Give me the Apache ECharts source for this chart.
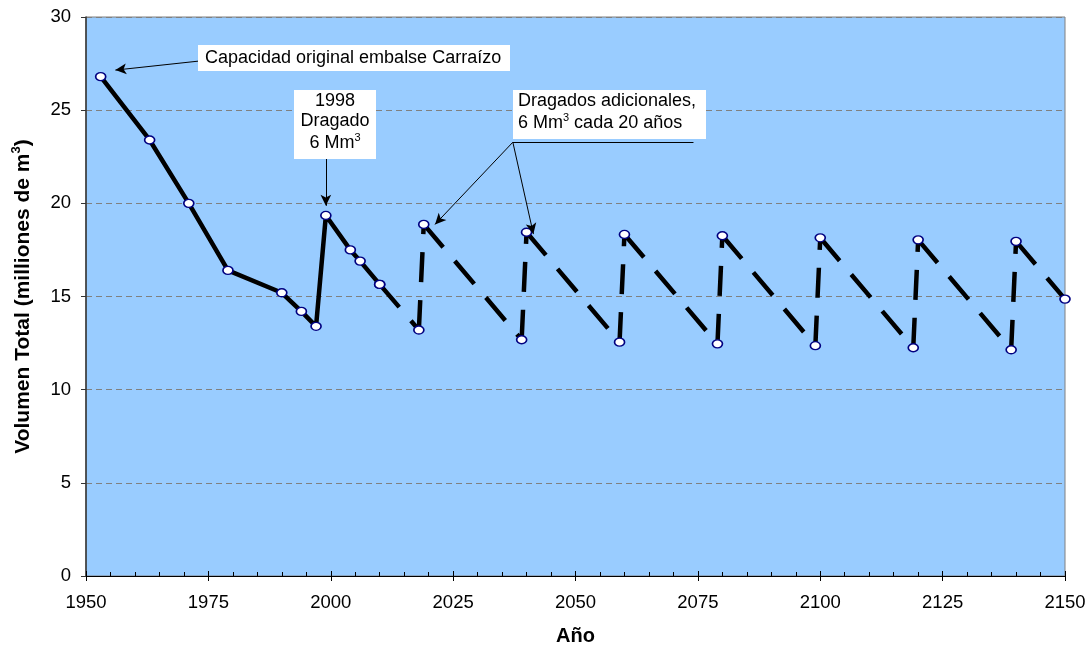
<!DOCTYPE html>
<html><head><meta charset="utf-8">
<script src="https://cdn.jsdelivr.net/npm/echarts@6/dist/echarts.min.js"></script>
<style>html,body{margin:0;padding:0;background:#fff}#c{width:1091px;height:645px}</style>
</head><body><div id="c"></div>
<script>
// ---- data ----
const measuredYears   = [1953, 1963, 1971, 1979, 1990, 1994, 1997, 1999, 2004, 2006, 2010];
const measuredVolumes = [26.8, 23.4, 20.0, 16.4, 15.2, 14.2, 13.4, 19.35, 17.5, 16.9, 15.65];
const projectedYears   = [2010, 2018, 2019, 2039, 2040, 2059, 2060, 2079, 2080, 2099, 2100, 2119, 2120, 2139, 2140, 2150];
const projectedVolumes = [15.65, 13.2, 18.87, 12.68, 18.45, 12.55, 18.33, 12.46, 18.26, 12.36, 18.15, 12.25, 18.04, 12.14, 17.96, 14.86];
const xTickLabels = [1950, 1975, 2000, 2025, 2050, 2075, 2100, 2125, 2150];
const yTickLabels = [0, 5, 10, 15, 20, 25, 30];
// annotation arrows in data coordinates [from, to, arrowhead?]
const arrowFrom = [[1972.9, 27.63], [1999.0, 22.39], [2037.2, 23.28], [2037.2, 23.28], [2037.2, 23.28]];
const arrowTo   = [[1956.0, 27.15], [1999.0, 19.87], [2021.3, 18.87], [2041.4, 18.35], [2074.1, 23.28]];
const arrowHead = [true, true, true, true, false];

const FONT = '"Liberation Sans", Arial, sans-serif';
const chart = echarts.init(document.getElementById('c'));

const pair = (xs, ys) => xs.map((x, i) => [x, ys[i]]);
const measured = pair(measuredYears, measuredVolumes);
const projected = pair(projectedYears, projectedVolumes);

const markerStyle = {color: '#ffffff', borderColor: '#000080', borderWidth: 1.5, opacity: 1};

const series = [];
series.push({
  type: 'line', data: measured, xAxisIndex: 0, yAxisIndex: 0,
  lineStyle: {color: '#000', width: 4.5}, symbol: 'circle', symbolSize: [10, 8],
  itemStyle: markerStyle, z: 3,
  markLine: {
    silent: true, animation: false, label: {show: false},
    symbolSize: [8, 11],
    lineStyle: {color: '#000', width: 1, type: 'solid'},
    data: arrowFrom.map((f, i) => [
      {coord: f, symbol: 'none'},
      {coord: arrowTo[i], symbol: arrowHead[i] ? 'arrow' : 'none'}
    ])
  }
});
// dashed projection: one segment per pair so the dash pattern restarts at each point
for (let i = 0; i < projected.length - 1; i++) {
  series.push({
    type: 'line', data: [projected[i], projected[i + 1]], xAxisIndex: 0, yAxisIndex: 0,
    lineStyle: {color: '#000', width: 4.5, type: [30, 18], cap: 'butt'},
    showSymbol: false, symbol: 'none', z: 2
  });
}
series.push({
  type: 'scatter', data: projected, xAxisIndex: 0, yAxisIndex: 0,
  symbol: 'circle', symbolSize: [10, 8], itemStyle: markerStyle, z: 4
});

chart.setOption({
  animation: false,
  backgroundColor: '#ffffff',
  grid: {left: 86, right: 26, top: 17, bottom: 69, show: true, containLabel: false,
         outerBoundsMode: 'none',
         backgroundColor: '#99CCFF', borderColor: '#808080', borderWidth: 1},
  xAxis: [{
    type: 'value', min: xTickLabels[0], max: xTickLabels[xTickLabels.length - 1], interval: 25,
    position: 'bottom',
    axisLine: {show: true, onZero: false, lineStyle: {color: '#000', width: 1}},
    axisTick: {show: true, inside: false, length: 5, lineStyle: {color: '#000'}},
    axisLabel: {color: '#000', fontSize: 18.5, fontFamily: FONT, margin: 17, formatter: v => String(v)},
    splitLine: {show: false},
    name: 'Año', nameLocation: 'middle', nameGap: 50,
    nameTextStyle: {color: '#000', fontSize: 20, fontWeight: 'bold', fontFamily: FONT}
  }, {
    type: 'value', min: xTickLabels[0], max: xTickLabels[xTickLabels.length - 1], interval: 25,
    position: 'bottom',
    axisLine: {show: false},
    axisTick: {show: true, inside: true, length: 5, lineStyle: {color: '#000'}},
    minorTick: {show: true, splitNumber: 5, length: 4, lineStyle: {color: '#000'}},
    axisLabel: {show: false}, splitLine: {show: false}
  }],
  yAxis: {
    type: 'value', min: yTickLabels[0], max: yTickLabels[yTickLabels.length - 1], interval: 5,
    axisLine: {show: true, lineStyle: {color: '#333', width: 1.5}},
    axisTick: {show: true, length: 5, lineStyle: {color: '#333'}},
    axisLabel: {color: '#000', fontSize: 18.5, fontFamily: FONT, margin: 15, formatter: v => String(v)},
    splitLine: {show: true, lineStyle: {color: '#808080', type: [6, 4], width: 1}},
    name: '{b|Volumen Total (milliones de m}{s|3}{b|)}',
    nameLocation: 'middle', nameGap: 50,
    nameTextStyle: {
      rich: {
        b: {fontSize: 21, fontWeight: 'bold', fontFamily: FONT, color: '#000', lineHeight: 26},
        s: {fontSize: 13, fontWeight: 'bold', fontFamily: FONT, color: '#000', verticalAlign: 'top', lineHeight: 14}
      }
    }
  },
  series: series
});

// ---- text boxes ----
const txt = {fontSize: 18, fontFamily: FONT, fill: '#000'};
const sup = {fontSize: 11, fontFamily: FONT, fill: '#000', verticalAlign: 'top', lineHeight: 12};
const nrm = {fontSize: 18, fontFamily: FONT, fill: '#000', lineHeight: 21};
chart.setOption({
  graphic: [
    {type: 'rect', shape: {x: 198, y: 45, width: 312, height: 26}, style: {fill: '#fff'}, z: 10},
    {type: 'text', x: 205, y: 58, z: 11,
     style: Object.assign({text: 'Capacidad original embalse Carraízo', verticalAlign: 'middle'}, txt)},

    {type: 'rect', shape: {x: 294, y: 90, width: 82, height: 69}, style: {fill: '#fff'}, z: 10},
    {type: 'text', x: 335, y: 101, z: 11, style: Object.assign({text: '1998', align: 'center', verticalAlign: 'middle'}, txt)},
    {type: 'text', x: 335, y: 121, z: 11, style: Object.assign({text: 'Dragado', align: 'center', verticalAlign: 'middle'}, txt)},
    {type: 'text', x: 335, y: 143, z: 11,
     style: {text: '{n|6 Mm}{s|3}', align: 'center', verticalAlign: 'middle', rich: {n: nrm, s: sup}}},

    {type: 'rect', shape: {x: 513, y: 90, width: 193, height: 49}, style: {fill: '#fff'}, z: 10},
    {type: 'text', x: 518, y: 101, z: 11, style: Object.assign({text: 'Dragados adicionales,', verticalAlign: 'middle'}, txt)},
    {type: 'text', x: 518, y: 123, z: 11,
     style: {text: '{n|6 Mm}{s|3}{n| cada 20 años}', verticalAlign: 'middle', rich: {n: nrm, s: sup}}}
  ]
});
</script>
</body></html>
